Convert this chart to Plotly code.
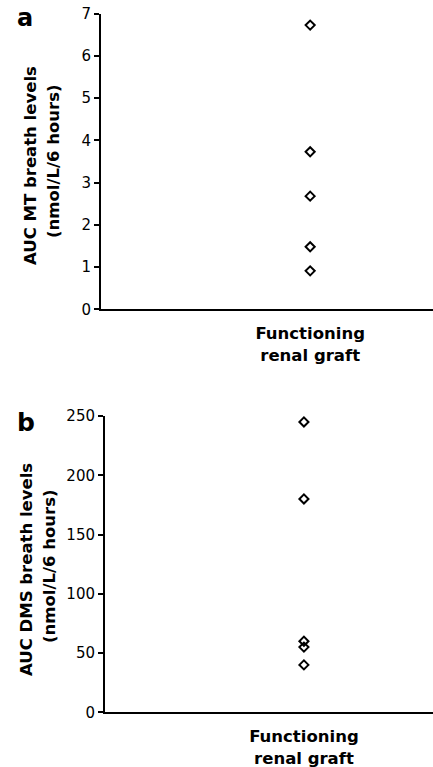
import plotly.graph_objects as go

category = ["Functioning renal graft"]
category_label = ["<b>Functioning</b><br><b>renal graft</b>"]
mt_values = [6.73, 3.73, 2.68, 1.48, 0.91]
dms_values = [245, 180, 60, 55, 40]
mt_ticks = [0, 1, 2, 3, 4, 5, 6, 7]
dms_ticks = [0, 50, 100, 150, 200, 250]

W, H = 433, 767
FONT = "DejaVu Sans"

def py(p):
    return 1 - p / H

def px(p):
    return p / W

marker = dict(symbol="diamond-open", size=7, color="black", line=dict(width=2, color="black"))

fig = go.Figure()
fig.add_trace(go.Scatter(
    x=category * len(mt_values), y=mt_values, mode="markers", xaxis="x", yaxis="y",
    marker=marker, showlegend=False, cliponaxis=False))
fig.add_trace(go.Scatter(
    x=category * len(dms_values), y=dms_values, mode="markers", xaxis="x2", yaxis="y2",
    marker=marker, showlegend=False, cliponaxis=False))

axis_common = dict(showline=True, linecolor="black", linewidth=2, showgrid=False,
                   zeroline=False, automargin=False, ticklabeloverflow="allow")
xcommon = dict(type="category", tickvals=category, ticktext=category_label,
               ticks="outside", ticklen=8, tickcolor="rgba(0,0,0,0)",
               tickfont=dict(size=16.5, family=FONT), **axis_common)
ycommon = dict(ticks="outside", ticklen=5, tickwidth=1.5, tickcolor="black",
               tickfont=dict(size=15, family=FONT), **axis_common)

fig.update_layout(
    template="none",
    width=W, height=H, margin=dict(l=0, r=0, t=0, b=0, pad=0),
    paper_bgcolor="white", plot_bgcolor="white",
    font=dict(family=FONT, color="black"),
    xaxis=dict(domain=[px(101), 1], anchor="y", range=[-1.26, 0.74], **xcommon),
    yaxis=dict(domain=[py(309.3), py(13.7)], anchor="x", range=[0, 7], tickvals=mt_ticks, **ycommon),
    xaxis2=dict(domain=[px(105), 1], anchor="y2", range=[-1.213, 0.787], **xcommon),
    yaxis2=dict(domain=[py(712.3), py(416)], anchor="x2", range=[0, 250], tickvals=dms_ticks, **ycommon),
)

def ann(text, x, y, size, angle=0):
    fig.add_annotation(text=text, x=px(x), y=py(y), xref="paper", yref="paper",
                       showarrow=False, textangle=angle, xanchor="center", yanchor="middle",
                       font=dict(family=FONT, size=size, color="black"))

ann("<b>a</b>", 25, 18, 24)
ann("<b>b</b>", 26, 422, 25)
ann("<b>AUC MT breath levels</b>", 30, 166, 16.5, -90)
ann("<b>(nmol/L/6 hours)</b>", 54, 161, 16.5, -90)
ann("<b>AUC DMS breath levels</b>", 26, 570, 16.5, -90)
ann("<b>(nmol/L/6 hours)</b>", 49, 566, 16.5, -90)

fig.write_html("out.html", config={"displayModeBar": False},
               post_script="document.body.style.margin='0';")
